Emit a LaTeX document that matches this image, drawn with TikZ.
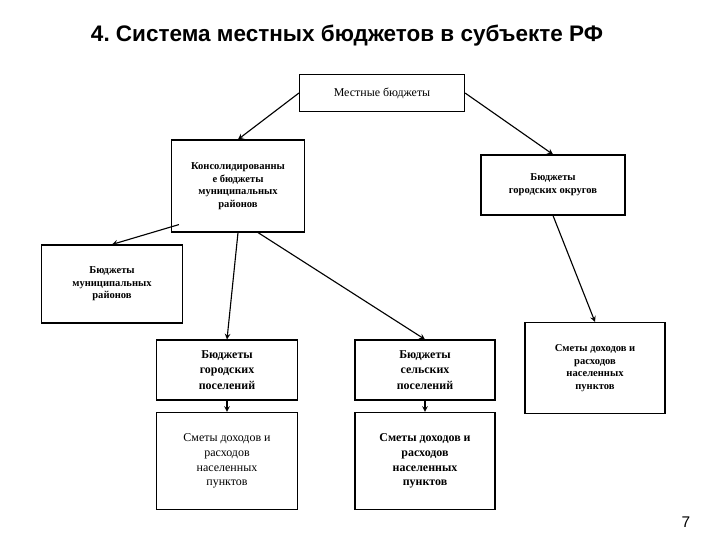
\documentclass[tikz,border=0pt]{standalone}
\usepackage{fontspec}
\setmainfont{Liberation Serif}
\newfontfamily\titlefont{Liberation Sans}
\usepackage{tikz}

\tikzset{
  budget/.style={shape=rectangle, draw=black, align=center, font=\fontsize{7.5}{9}\selectfont\bfseries},
  estimate/.style={budget, font=\fontsize{8.5}{10.5}\selectfont},
}

\begin{document}
\frenchspacing
\begin{tikzpicture}[x=0.025cm, y=-0.025cm, >=stealth, thick]
			\useasboundingbox (0,0) rectangle (720,540);
			\node[font=\titlefont\fontsize{16}{19}\selectfont\bfseries] (title) at (347,36) {4. Система местных бюджетов в субъекте РФ};
			\node[budget, minimum width=165*0.025cm, minimum height=37*0.025cm, font=\fontsize{8.5}{10}\selectfont] (local) at (382,93) {Местные бюджеты};
			\node[budget, minimum width=133*0.025cm, minimum height=92*0.025cm] (cons) at (238,186) {Консолидированны\\е бюджеты\\муниципальных\\районов};
			\node[budget, minimum width=144*0.025cm, minimum height=60*0.025cm] (okrug) at (553,185) {Бюджеты\\городских округов};
			\node[budget, minimum width=141*0.025cm, minimum height=78*0.025cm] (rayon) at (112,284) {Бюджеты\\муниципальных\\районов};
			\node[budget, minimum width=141*0.025cm, minimum height=60*0.025cm, font=\fontsize{8.5}{11}\selectfont\bfseries] (gorod) at (227,370) {Бюджеты\\городских\\поселений};
			\node[budget, minimum width=140*0.025cm, minimum height=60*0.025cm, font=\fontsize{8.5}{11}\selectfont\bfseries] (selo) at (425,370) {Бюджеты\\сельских\\поселений};
			\node[budget, minimum width=140*0.025cm, minimum height=91*0.025cm] (smeta3) at (595,368) {Сметы доходов и\\расходов\\населенных\\пунктов};
			\node[estimate, minimum width=141*0.025cm, minimum height=97*0.025cm] (smeta1) at (227,461) {Сметы доходов и\\расходов\\населенных\\пунктов};
			\node[estimate, minimum width=140*0.025cm, minimum height=97*0.025cm, font=\fontsize{8.5}{10.5}\selectfont\bfseries] (smeta2) at (425,461) {Сметы доходов и\\расходов\\населенных\\пунктов};
			\node[font=\titlefont\fontsize{11}{13}\selectfont] (page) at (686,522) {7};
			
			\draw[->] (local.west) -- (cons.north);
			\draw[->] (local.east) -- (okrug.north);
			\draw[->] ([xshift=0.2cm,yshift=0.2cm]cons.south west) -- (rayon.north);
			\draw[->] (cons.south) -- (gorod.north);
			\draw[->] ([xshift=0.5cm]cons.south) -- (selo.north);
			\draw[->] (okrug.south) -- (smeta3.north);
			\draw[->] (gorod) -- (smeta1);
			\draw[->] (selo) -- (smeta2);
		\end{tikzpicture}
\end{document}
